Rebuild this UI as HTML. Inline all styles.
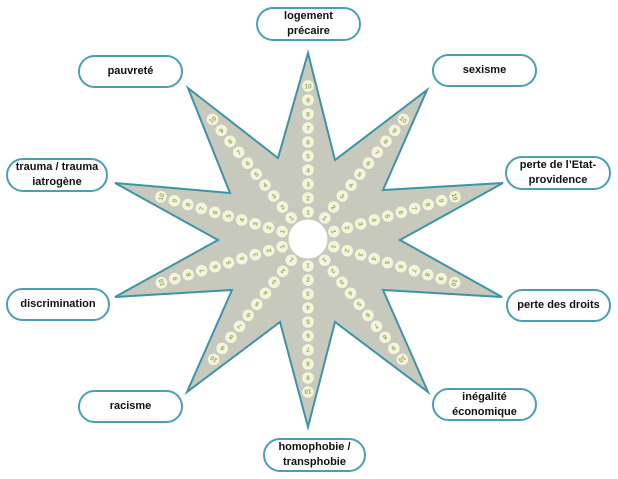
<!DOCTYPE html>
<html><head><meta charset="utf-8"><style>
body{margin:0;background:#fff;width:618px;height:479px;overflow:hidden;position:relative;font-family:"Liberation Sans",sans-serif}
.b{position:absolute;border:2.5px solid #4a9fb2;border-radius:17px;box-sizing:border-box;display:flex;align-items:center;justify-content:center;text-align:center;font-weight:bold;font-size:11px;line-height:15px;color:#111;background:#fff}
svg{position:absolute;left:0;top:0}
</style></head><body>
<svg width="618" height="479" viewBox="0 0 618 479">
<defs>
<g id="ray">
<g font-family="Liberation Sans" font-size="6.5" fill="#9aab4e" text-anchor="middle" font-weight="bold">
<circle cx="308" cy="212" r="5.8" fill="#f4f3dc"/><text x="308" y="214.5">1</text>
<circle cx="308" cy="198" r="5.8" fill="#f4f3dc"/><text x="308" y="200.5">2</text>
<circle cx="308" cy="184" r="5.8" fill="#f4f3dc"/><text x="308" y="186.5">3</text>
<circle cx="308" cy="170" r="5.8" fill="#f4f3dc"/><text x="308" y="172.5">4</text>
<circle cx="308" cy="156" r="5.8" fill="#f4f3dc"/><text x="308" y="158.5">5</text>
<circle cx="308" cy="142" r="5.8" fill="#f4f3dc"/><text x="308" y="144.5">6</text>
<circle cx="308" cy="128" r="5.8" fill="#f4f3dc"/><text x="308" y="130.5">7</text>
<circle cx="308" cy="114" r="5.8" fill="#f4f3dc"/><text x="308" y="116.5">8</text>
<circle cx="308" cy="100" r="5.8" fill="#f4f3dc"/><text x="308" y="102.5">9</text>
<circle cx="308" cy="86" r="5.8" fill="#f4f3dc"/><text x="308" y="88.5">10</text>
</g>
</g>
</defs>
<polygon points="308,53 335,160 427,90 383,190 503,183 400,240 502,297 383,290 428,392 335,322 308,427 280,322 187,392 232,290 115,297 218,240 115,183 230,193 188,88 278,158" fill="#c8c9bd" stroke="#3e93a7" stroke-width="2" stroke-linejoin="miter"/>
<circle cx="308" cy="239" r="19.5" fill="#fff"/>
<use href="#ray"/>
<use href="#ray" transform="rotate(38.6 308 239)"/>
<use href="#ray" transform="rotate(74 308 239)"/>
<use href="#ray" transform="rotate(106.6 308 239)"/>
<use href="#ray" transform="rotate(141.9 308 239)"/>
<use href="#ray" transform="rotate(180 308 239)"/>
<use href="#ray" transform="rotate(-141.9 308 239)"/>
<use href="#ray" transform="rotate(-106.6 308 239)"/>
<use href="#ray" transform="rotate(-74 308 239)"/>
<use href="#ray" transform="rotate(-38.6 308 239)"/>
</svg>
<div class="b" style="left:256px;top:7px;width:105px;height:34px">logement<br>précaire</div>
<div class="b" style="left:78px;top:55px;width:105px;height:33px">pauvreté</div>
<div class="b" style="left:432px;top:54px;width:105px;height:33px">sexisme</div>
<div class="b" style="left:6px;top:158px;width:102px;height:34px">trauma / trauma<br>iatrogène</div>
<div class="b" style="left:505px;top:156px;width:106px;height:34px">perte de l’Etat-<br>providence</div>
<div class="b" style="left:6px;top:288px;width:104px;height:33px">discrimination</div>
<div class="b" style="left:506px;top:289px;width:105px;height:33px">perte des droits</div>
<div class="b" style="left:78px;top:390px;width:105px;height:33px">racisme</div>
<div class="b" style="left:432px;top:388px;width:105px;height:33px">inégalité<br>économique</div>
<div class="b" style="left:263px;top:438px;width:103px;height:34px">homophobie /<br>transphobie</div>
</body></html>
